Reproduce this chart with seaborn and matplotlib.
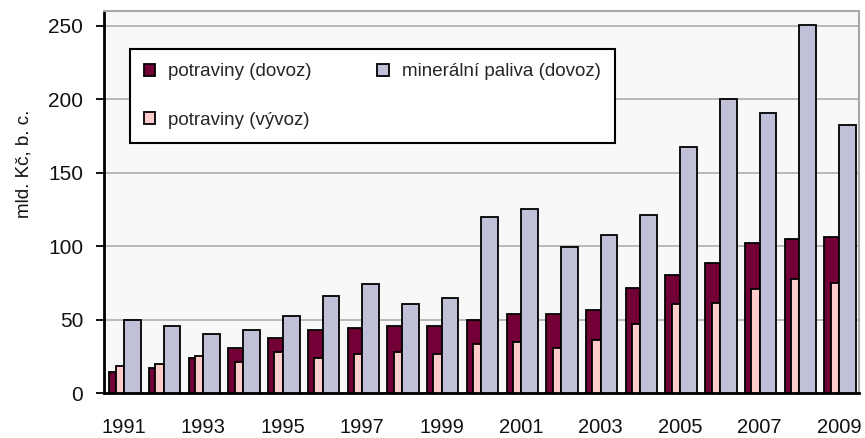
import matplotlib
matplotlib.use("Agg")
import matplotlib.pyplot as plt
import seaborn as sns
import numpy as np
import pandas as pd
from matplotlib.patches import Patch

years = list(range(1991, 2010))
potraviny_dovoz = [14.8, 17.5, 24.3, 30.9, 37.7, 43.1, 44.5, 45.9, 45.9, 49.7,
                   53.8, 53.8, 56.5, 71.5, 80.8, 89.0, 102.4, 105.3, 106.7]
potraviny_vyvoz = [18.6, 20.0, 25.4, 21.3, 28.1, 23.8, 26.8, 28.1, 26.8, 33.4,
                   34.7, 30.6, 36.1, 47.0, 60.6, 61.7, 71.3, 78.1, 75.4]
paliva_dovoz = [49.7, 45.9, 40.6, 43.1, 52.7, 66.3, 74.2, 60.8, 64.7, 120.0,
                125.5, 99.9, 108.0, 121.4, 167.8, 200.2, 190.5, 250.4, 182.3]
labels = ["potraviny (dovoz)", "potraviny (vývoz)", "minerální paliva (dovoz)"]
colors = ["#720036", "#FFCCCC", "#C0C0D8"]
tick_years = [str(y) if (y - 1991) % 2 == 0 else "" for y in years]

sns.set_theme(style="white")
plt.rcParams['font.family'] = ['Liberation Sans', 'DejaVu Sans']

fig = plt.figure(figsize=(8.65, 4.38), dpi=100)
ax = fig.add_axes([104/865, 1-393.3/438, 755/865, 382/438])
ax.set_facecolor("#F8F8F8")

df = pd.DataFrame({"rok": [str(y) for y in years],
                   "pd": potraviny_dovoz, "pv": potraviny_vyvoz, "md": paliva_dovoz})

# (column, color, width, shift)
specs = [("pd", colors[0], 0.37, -0.185),
         ("pv", colors[1], 0.21, -0.105),
         ("md", colors[2], 0.42, 0.21)]
for col, c, w, sh in specs:
    n_before = len(ax.patches)
    sns.barplot(data=df, x="rok", y=col, ax=ax, color=c, width=w,
                edgecolor="black", linewidth=1.3, saturation=1, errorbar=None, zorder=3)
    for p in ax.patches[n_before:]:
        p.set_x(p.get_x() + sh)

ax.set_xlim(-0.5, len(years) - 0.5)
ax.set_ylim(0, 260)
ax.set_yticks(np.arange(0, 251, 50))
ax.yaxis.grid(True, color="#A8A8A8", linewidth=1.1, zorder=0)
ax.xaxis.grid(False)
ax.set_axisbelow(True)

ax.set_xticks(np.arange(len(years)))
ax.set_xticklabels(tick_years, fontsize=14.5, color="#111111")
ax.set_xticks(np.arange(-0.5, len(years)), minor=True)
ax.tick_params(axis="x", which="major", length=0, pad=18)
ax.tick_params(axis="x", which="minor", length=6, width=1.3, color="black", direction="out")
ax.tick_params(axis="y", length=6, width=1.3, color="black", direction="out",
               labelsize=15, labelcolor="#111111", pad=9, left=True)

for s in ["left", "bottom"]:
    ax.spines[s].set_color("black")
    ax.spines[s].set_linewidth(2)
for s in ["top", "right"]:
    ax.spines[s].set_color("#A8A8A8")
    ax.spines[s].set_linewidth(1.5)

ax.set_xlabel("")
ax.set_ylabel("mld. Kč, b. c.", fontsize=13.5, color="#111111")
ax.yaxis.set_label_coords(-0.095, 0.6)

handles = [Patch(facecolor=colors[i], edgecolor="black", linewidth=1.3, label=labels[i])
           for i in range(3)]
leg = ax.legend(handles=handles, ncol=2, loc="upper left",
                bbox_to_anchor=(0.0344, 0.901 - 0.233, 0.642, 0.233), mode="expand",
                fontsize=13.5, frameon=True, fancybox=False, framealpha=1,
                edgecolor="black", handlelength=0.6, handleheight=0.6,
                handletextpad=0.7, labelspacing=1.7, borderpad=0.75,
                columnspacing=3.0, borderaxespad=0)
leg.get_frame().set_linewidth(1.5)
leg.set_zorder(5)

fig.savefig("out.png", dpi=100)
